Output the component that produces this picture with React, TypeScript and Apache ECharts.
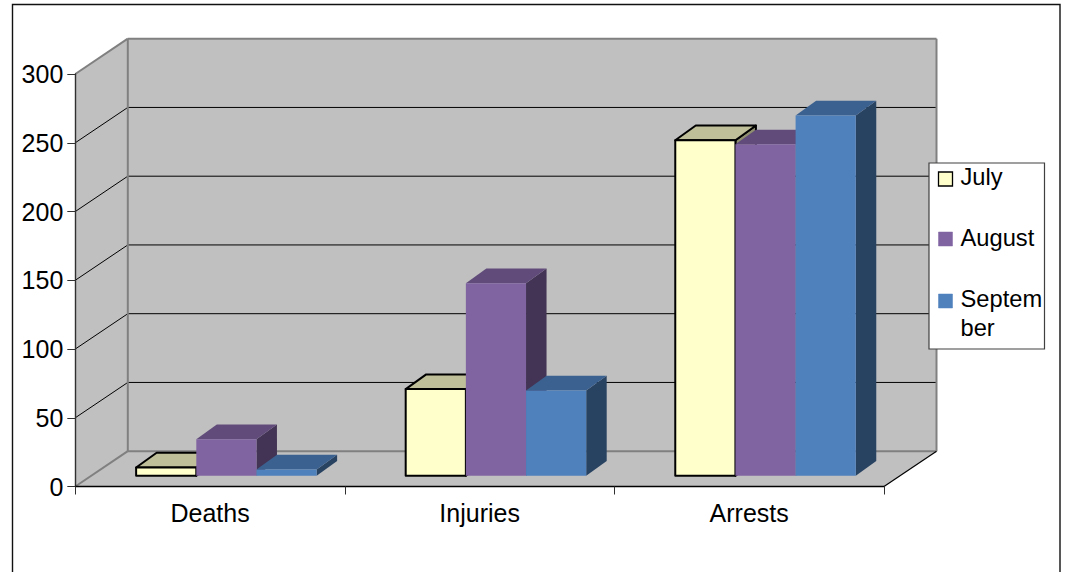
import React, { useEffect, useRef } from "react";
import * as echarts from "echarts";

const categories = ["Deaths", "Injuries", "Arrests"];
const july = [6, 63, 244];
const august = [26.5, 140, 241];
const september = [4.5, 62, 262];
const yTicks = [50, 100, 150, 200, 250];
const monthNames = ["July", "August", "September"];
const legendLabels = ["July", "August", "Septem\nber"];
const faces = [
  { front: "#FFFFCC", top: "#BFBF99", side: "#8F8F70", stroke: "#000000", lineWidth: 2 },
  { front: "#8064A2", top: "#604B7A", side: "#433354", stroke: "none", lineWidth: 0 },
  { front: "#4F81BD", top: "#3B6190", side: "#284261", stroke: "none", lineWidth: 0 },
];

const FONT = "Liberation Sans";
const WALL_DX = 52.5;
const WALL_DY = -35.3;
const BAR_DX = 20.5;
const BAR_DY = -14.7;
const GROUP_DX = 16.3;
const GROUP_DY = -10.8;
const BAR_RATIO = 0.2232;

function wallsRender(params: any, api: any) {
  const c = params.coordSys;
  const l = c.x, r = c.x + c.width, t = c.y, b = c.y + c.height;
  const poly = (points: number[][], fill: string) => ({
    type: "polygon", silent: true, shape: { points }, style: { fill, stroke: "none" },
  });
  const line = (x1: number, y1: number, x2: number, y2: number, stroke: string, lineWidth: number) => ({
    type: "line", silent: true, shape: { x1, y1, x2, y2 }, style: { stroke, lineWidth },
  });
  const children: any[] = [
    poly([[l + WALL_DX, t + WALL_DY], [r + WALL_DX, t + WALL_DY], [r + WALL_DX, b + WALL_DY], [l + WALL_DX, b + WALL_DY]], "#C0C0C0"),
    poly([[l, t], [l + WALL_DX, t + WALL_DY], [l + WALL_DX, b + WALL_DY], [l, b]], "#C0C0C0"),
    poly([[l, b], [l + WALL_DX, b + WALL_DY], [r + WALL_DX, b + WALL_DY], [r, b]], "#C0C0C0"),
  ];
  yTicks.forEach((v) => {
    const y = api.coord([0, v])[1];
    children.push(line(l, y, l + WALL_DX, y + WALL_DY, "#000000", 1));
    children.push(line(l + WALL_DX, y + WALL_DY, r + WALL_DX, y + WALL_DY, "#000000", 1));
  });
  children.push(
    line(l, t, l + WALL_DX, t + WALL_DY, "#808080", 2),
    line(l + WALL_DX, t + WALL_DY, r + WALL_DX, t + WALL_DY, "#808080", 2),
    line(l + WALL_DX, t + WALL_DY, l + WALL_DX, b + WALL_DY, "#808080", 2),
    line(r + WALL_DX, t + WALL_DY, r + WALL_DX, b + WALL_DY, "#808080", 2),
    line(l + WALL_DX, b + WALL_DY, r + WALL_DX, b + WALL_DY, "#808080", 2),
    line(l, b, l + WALL_DX, b + WALL_DY, "#808080", 2),
    line(r, b, r + WALL_DX, b + WALL_DY, "#000000", 1.2),
  );
  return { type: "group", children };
}

function barRender(i: number) {
  return (_params: any, api: any) => {
    const cat = api.value(0);
    const band = api.size([1, 0])[0];
    const w = band * BAR_RATIO;
    const base = api.coord([cat, 0]);
    const top = api.coord([cat, api.value(1)]);
    const x0 = base[0] + GROUP_DX + (i - 1.5) * w;
    const x1 = x0 + w;
    const yb = base[1] + GROUP_DY;
    const yt = top[1] + GROUP_DY;
    const f = faces[i];
    const style = (fill: string) => ({
      fill,
      stroke: f.stroke,
      lineWidth: f.lineWidth,
      lineJoin: "round",
    });
    return {
      type: "group",
      children: [
        { type: "polygon", silent: true, shape: { points: [[x1, yt], [x1 + BAR_DX, yt + BAR_DY], [x1 + BAR_DX, yb + BAR_DY], [x1, yb]] }, style: style(f.side) },
        { type: "polygon", silent: true, shape: { points: [[x0, yt], [x0 + BAR_DX, yt + BAR_DY], [x1 + BAR_DX, yt + BAR_DY], [x1, yt]] }, style: style(f.top) },
        { type: "polygon", silent: true, shape: { points: [[x0, yt], [x1, yt], [x1, yb], [x0, yb]] }, style: style(f.front) },
      ],
    };
  };
}

const LEGEND_SWATCH_Y = [172, 232, 294];
const LEGEND_TEXT_Y = [162, 223, 284];

function legendGraphics() {
  const els: any[] = [
    { type: "rect", z: 100, silent: true, shape: { x: 929, y: 163, width: 115.5, height: 186 }, style: { fill: "#FFFFFF", stroke: "#404040", lineWidth: 1.2 } },
  ];
  monthNames.forEach((_, i) => {
    els.push({
      type: "rect", z: 101, silent: true,
      shape: { x: 938.5, y: LEGEND_SWATCH_Y[i], width: 14, height: 14 },
      style: { fill: faces[i].front, stroke: faces[i].stroke === "none" ? faces[i].front : "#000000", lineWidth: i === 0 ? 1.3 : 0.5 },
    });
    els.push({
      type: "text", z: 101, silent: true, x: 960.5, y: LEGEND_TEXT_Y[i],
      style: { text: legendLabels[i], fill: "#000000", font: `23.7px "${FONT}"`, lineHeight: 29, verticalAlign: "top" },
    });
  });
  return els;
}

export default function App() {
  const ref = useRef<HTMLDivElement>(null);
  useEffect(() => {
    document.body.style.margin = "0";
    document.body.style.background = "#ffffff";
    const chart = echarts.init(ref.current!, undefined, { renderer: "svg" });
    const toData = (vals: number[]) => vals.map((v, i) => [i, v]);
    chart.setOption({
      animation: false,
      backgroundColor: "#FFFFFF",
      textStyle: { fontFamily: FONT },
      grid: { left: 75.3, top: 74, width: 808.7, height: 412.5, containLabel: false },
      xAxis: {
        type: "category",
        data: categories,
        z: 5,
        axisLine: { show: true, lineStyle: { color: "#000000", width: 1.4 } },
        axisTick: { show: true, length: 8, lineStyle: { color: "#303030", width: 1 } },
        axisLabel: { color: "#000000", fontSize: 25, fontFamily: FONT, margin: 14 },
        splitLine: { show: false },
      },
      yAxis: {
        type: "value",
        min: 0,
        max: 300,
        interval: 50,
        z: 5,
        axisLine: { show: true, lineStyle: { color: "#303030", width: 1.4 } },
        axisTick: { show: true, length: 8, lineStyle: { color: "#303030", width: 1 } },
        axisLabel: { color: "#000000", fontSize: 25, fontFamily: FONT, margin: 12 },
        splitLine: { show: false },
      },
      graphic: {
        elements: [
          { type: "rect", z: 99, silent: true, shape: { x: 12.5, y: 4.5, width: 1047.5, height: 600 }, style: { fill: "none", stroke: "#111111", lineWidth: 1.4 } },
          ...legendGraphics(),
        ],
      },
      series: [
        { type: "custom", name: "walls", z: 1, silent: true, renderItem: wallsRender, data: [[0, 0]], encode: { x: 0, y: 1 } },
        { type: "custom", name: monthNames[0], z: 2, silent: true, renderItem: barRender(0), data: toData(july), encode: { x: 0, y: 1 } },
        { type: "custom", name: monthNames[1], z: 3, silent: true, renderItem: barRender(1), data: toData(august), encode: { x: 0, y: 1 } },
        { type: "custom", name: monthNames[2], z: 4, silent: true, renderItem: barRender(2), data: toData(september), encode: { x: 0, y: 1 } },
      ],
    });
    return () => chart.dispose();
  }, []);
  return <div ref={ref} style={{ position: "fixed", left: 0, top: 0, width: 1066, height: 572 }} />;
}
